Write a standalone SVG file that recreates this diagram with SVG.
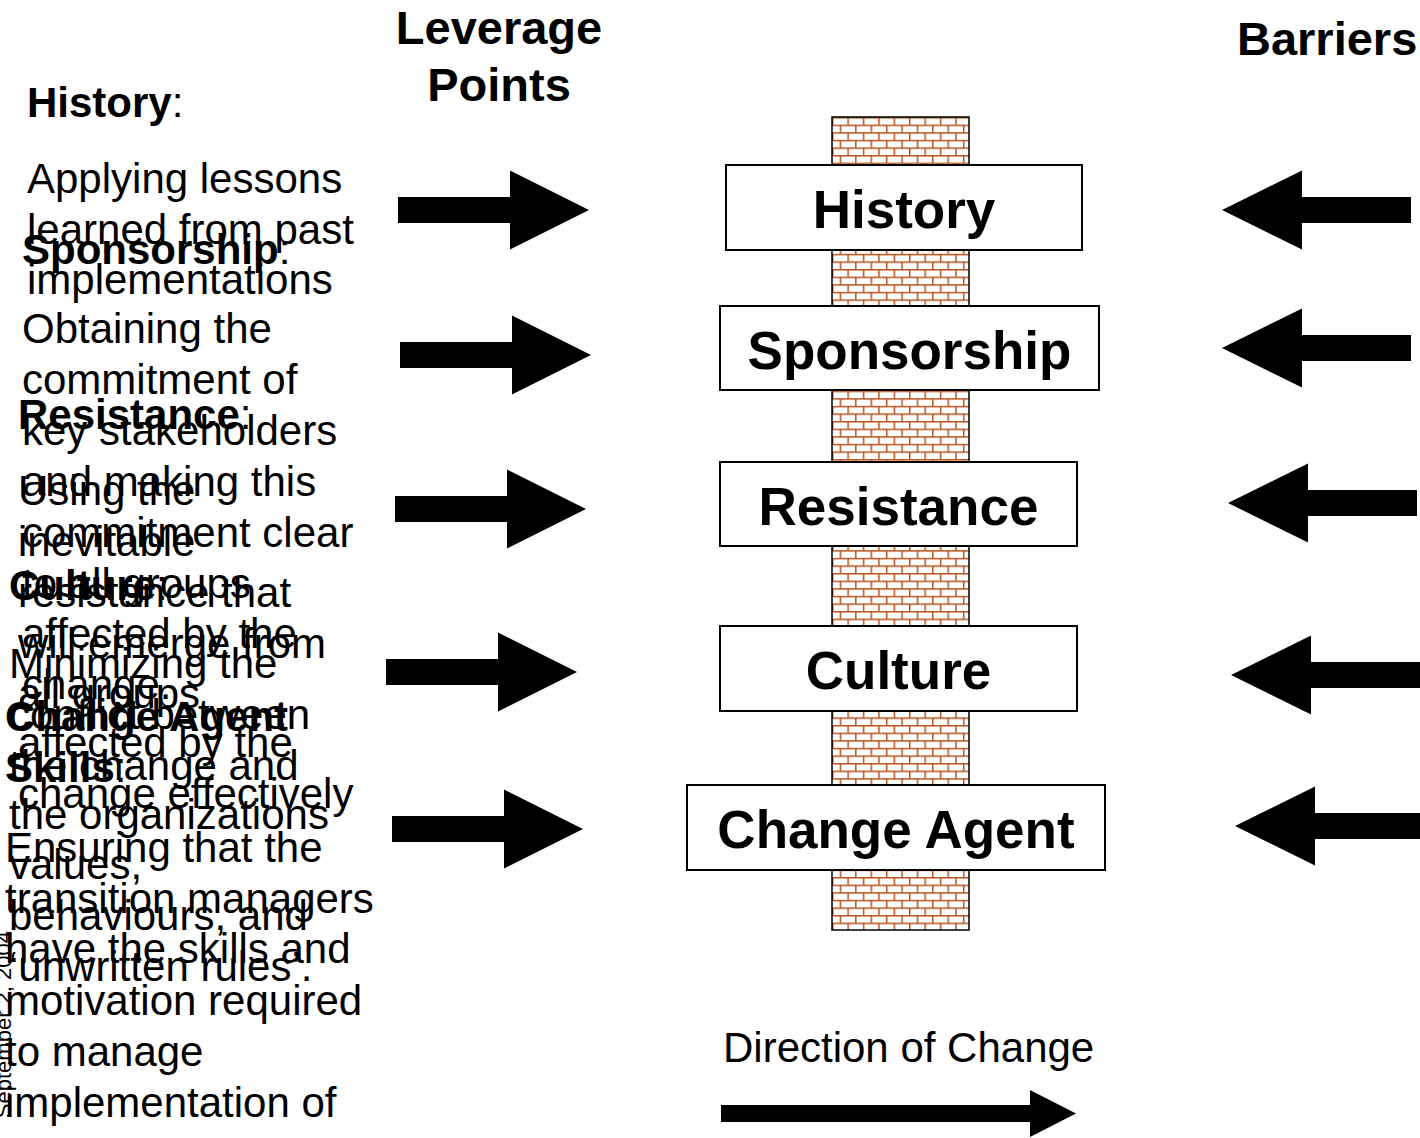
<svg xmlns="http://www.w3.org/2000/svg" width="1420" height="1138" viewBox="0 0 1420 1138">
  <style>
    text { font-family: "Liberation Sans", Arial, sans-serif; fill: #000; }
    .head { font-size: 47px; font-weight: bold; }
    .label { font-size: 53px; font-weight: bold; text-anchor: middle; }
    .body { font-size: 42px; }
    .b { font-weight: bold; }
    .box { fill: #fff; stroke: #000; stroke-width: 2; }
    .arrow { fill: #000; }
  </style>
  <defs>
    <!-- brick wall fill -->
    <pattern id="brick" patternUnits="userSpaceOnUse" x="832" y="117" width="15.4" height="15.2">
      <rect width="15.4" height="15.2" fill="#fff"/>
      <g stroke="#B8541F" stroke-width="1.5" fill="none">
        <line x1="0" y1="0.75" x2="15.4" y2="0.75"/>
        <line x1="0" y1="8.35" x2="15.4" y2="8.35"/>
        <line x1="0.75" y1="0" x2="0.75" y2="8.35"/>
        <line x1="8.45" y1="8.35" x2="8.45" y2="15.2"/>
      </g>
    </pattern>
    <path id="arrowRight" d="M0,-13 H112 V-39.5 L191,0 L112,39.5 V13 H0 Z"/>
    <path id="arrowLeft" d="M0,0 L80,-39.5 V-13 H189 V13 H80 V39.5 Z"/>
  </defs>

  <rect width="1420" height="1138" fill="#fff"/>

  <!-- column headings -->
  <g id="heading-leverage">
    <text class="head" text-anchor="middle"><tspan x="499" y="44">Leverage</tspan><tspan x="499" y="101">Points</tspan></text>
  </g>
  <g id="heading-barriers">
    <text class="head" x="1237" y="55">Barriers</text>
  </g>

  <!-- leverage point descriptions -->
  <g id="desc-history">
    <text class="body" x="27" y="117"><tspan class="b">History</tspan>:</text>
    <text class="body"><tspan x="27" y="193">Applying lessons</tspan><tspan x="27" y="244">learned from past</tspan><tspan x="27" y="294">implementations</tspan></text>
  </g>
  <g id="desc-sponsorship">
    <text class="body" x="22" y="264"><tspan class="b">Sponsorship</tspan>:</text>
    <text class="body"><tspan x="22" y="343">Obtaining the</tspan><tspan x="22" y="394">commitment of</tspan><tspan x="22" y="445">key stakeholders</tspan><tspan x="22" y="496">and making this</tspan><tspan x="22" y="547">commitment clear</tspan><tspan x="22" y="598">to all groups</tspan><tspan x="22" y="648">affected by the</tspan><tspan x="22" y="699">change.</tspan></text>
  </g>
  <g id="desc-resistance">
    <text class="body" x="18" y="429"><tspan class="b">Resistance</tspan>:</text>
    <text class="body"><tspan x="18" y="505">Using the</tspan><tspan x="18" y="556">inevitable</tspan><tspan x="18" y="607">resistance that</tspan><tspan x="18" y="658">will emerge from</tspan><tspan x="18" y="708">all groups</tspan><tspan x="18" y="757">affected by the</tspan><tspan x="18" y="808">change effectively</tspan></text>
  </g>
  <g id="desc-culture">
    <text class="body" x="9" y="600"><tspan class="b">Culture</tspan>:</text>
    <text class="body"><tspan x="9" y="678">Minimizing the</tspan><tspan x="9" y="729">conflict between</tspan><tspan x="9" y="780">the change and</tspan><tspan x="9" y="829">the organizations</tspan><tspan x="9" y="879">values,</tspan><tspan x="9" y="930">behaviours, and</tspan><tspan x="9" y="981">‘unwritten rules’.</tspan></text>
  </g>
  <g id="desc-change-agent">
    <text class="body"><tspan class="b" x="5" y="731">Change Agent</tspan><tspan class="b" x="5" y="782">Skills</tspan><tspan>:</tspan></text>
    <text class="body"><tspan x="5" y="862">Ensuring that the</tspan><tspan x="5" y="913">transition managers</tspan><tspan x="5" y="963">have the skills and</tspan><tspan x="5" y="1015">motivation required</tspan><tspan x="5" y="1066">to manage</tspan><tspan x="5" y="1117">implementation of</tspan></text>
  </g>

  <!-- footer date along the left edge -->
  <text transform="translate(11,931) rotate(-90)" text-anchor="end" font-size="22">September 2, 2004</text>

  <!-- brick wall -->
  <g id="wall">
    <rect x="832" y="117" width="137" height="813" fill="url(#brick)" stroke="#000" stroke-width="1.5"/>
  </g>

  <!-- wall labels -->
  <g id="node-history">
    <rect class="box" x="726" y="165" width="356" height="85"/>
    <text class="label" x="904" y="228">History</text>
  </g>
  <g id="node-sponsorship">
    <rect class="box" x="720" y="306" width="379" height="84"/>
    <text class="label" x="909.5" y="369">Sponsorship</text>
  </g>
  <g id="node-resistance">
    <rect class="box" x="720" y="462" width="357" height="84"/>
    <text class="label" x="898.5" y="525">Resistance</text>
  </g>
  <g id="node-culture">
    <rect class="box" x="720" y="626" width="357" height="85"/>
    <text class="label" x="898.5" y="689">Culture</text>
  </g>
  <g id="node-change-agent">
    <rect class="box" x="687" y="785" width="418" height="85"/>
    <text class="label" x="896" y="848">Change Agent</text>
  </g>

  <!-- block arrows -->
  <g id="connectors" class="arrow">
    <use href="#arrowRight" transform="translate(398,210)"/>
    <use href="#arrowRight" transform="translate(400,355)"/>
    <use href="#arrowRight" transform="translate(395,509)"/>
    <use href="#arrowRight" transform="translate(386,672)"/>
    <use href="#arrowRight" transform="translate(392,829)"/>
    <use href="#arrowLeft" transform="translate(1222,210)"/>
    <use href="#arrowLeft" transform="translate(1222,348)"/>
    <use href="#arrowLeft" transform="translate(1228,503)"/>
    <use href="#arrowLeft" transform="translate(1231,675)"/>
    <use href="#arrowLeft" transform="translate(1235,826)"/>
    <path d="M721,1105 H1030 V1090 L1076,1113.5 L1030,1137 V1122 H721 Z"/>
  </g>

  <!-- legend -->
  <g id="legend">
    <text x="723" y="1062" font-size="42">Direction of Change</text>
  </g>
</svg>
